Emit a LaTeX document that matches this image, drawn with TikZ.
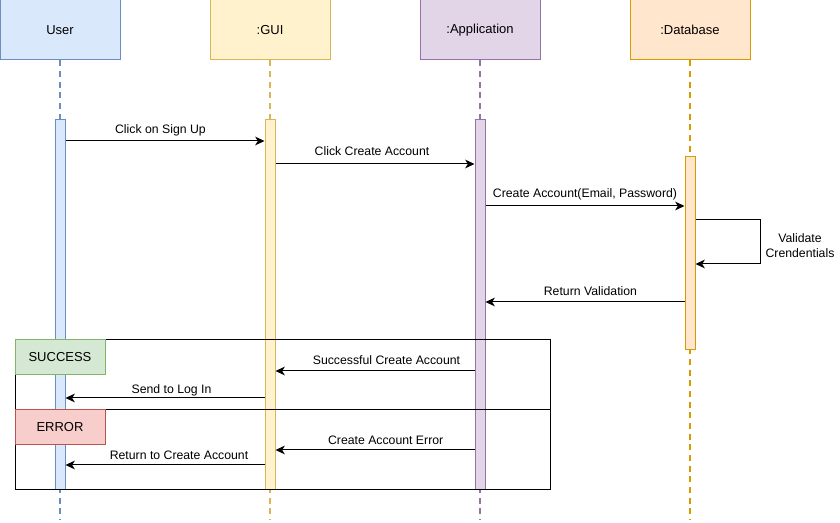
\documentclass[tikz,border=0pt]{standalone}
\usepackage{fontspec}
\setmainfont{Liberation Sans}
\usetikzlibrary{arrows.meta}
\definecolor{ufill}{HTML}{DAE8FC}\definecolor{udraw}{HTML}{6C8EBF}
\definecolor{gfill}{HTML}{FFF2CC}\definecolor{gdraw}{HTML}{D6B656}
\definecolor{afill}{HTML}{E1D5E7}\definecolor{adraw}{HTML}{9673A6}
\definecolor{dfill}{HTML}{FFE6CC}\definecolor{ddraw}{HTML}{D79B00}
\definecolor{sfill}{HTML}{D5E8D4}\definecolor{sdraw}{HTML}{82B366}
\definecolor{efill}{HTML}{F8CECC}\definecolor{edraw}{HTML}{B85450}
\tikzset{
  hdr/.style={rectangle, minimum width=90pt, minimum height=45pt, inner sep=0pt, line width=0.75pt, font=\fontsize{9.75}{12}\selectfont},
  bar/.style={rectangle, minimum width=7.5pt, inner sep=0pt, line width=0.75pt},
  life/.style={line width=1.1pt, dash pattern=on 4.5pt off 3.5pt},
  msg/.style={line width=0.75pt, -{Stealth[length=7pt, width=6.5pt, inset=2pt]}},
  lbl/.style={font=\fontsize{9.2}{11}\selectfont, inner sep=0pt},
  tag/.style={rectangle, minimum width=67.5pt, minimum height=26.25pt, inner sep=0pt, line width=0.75pt, font=\fontsize{9.75}{12}\selectfont},
}
\begin{document}
\begin{tikzpicture}[x=0.75pt,y=-0.75pt]
\useasboundingbox (0,0) rectangle (840,523);
% headers
\node[hdr, fill=ufill, draw=udraw] (user) at (60,30) {User};
\node[hdr, fill=gfill, draw=gdraw] (gui) at (270,30) {:GUI};
\node[hdr, fill=afill, draw=adraw] (app) at (480,30) {:Application};
\node[hdr, fill=dfill, draw=ddraw] (db) at (690,30) {:Database};
% lifelines
\coordinate (uend) at (60,520);
\coordinate (gend) at (270,520);
\coordinate (aend) at (480,520);
\coordinate (dend) at (690,520);
\draw[life, udraw] (user.south) -- (uend);
\draw[life, gdraw] (gui.south) -- (gend);
\draw[life, adraw] (app.south) -- (aend);
\draw[life, ddraw] (db.south) -- (dend);
% activation bars
\node[bar, minimum height=277.5pt, fill=ufill, draw=udraw] (ub) at (60,305) {};
\node[bar, minimum height=277.5pt, fill=gfill, draw=gdraw] (gb) at (270,305) {};
\node[bar, minimum height=277.5pt, fill=afill, draw=adraw] (ab) at (480,305) {};
\node[bar, minimum height=144.75pt, fill=dfill, draw=ddraw] (dbb) at (690,253.5) {};
% fragment
\node[rectangle, draw, line width=0.75pt, minimum width=401.25pt, minimum height=112.5pt, inner sep=0pt] (frag) at (282.5,415) {};
\coordinate (divl) at (15,410);
\coordinate (divr) at (550,410);
\draw[line width=0.75pt] (divl) -- (divr);
\node[tag, fill=sfill, draw=sdraw] (succ) at (60,357.5) {SUCCESS};
\node[tag, fill=efill, draw=edraw] (err) at (60,427.5) {ERROR};
% messages
\draw[msg] (ub.east |- 0,141) -- node[lbl, xshift=-3.4pt, yshift=8.25pt] {Click on Sign Up} (gb.west |- 0,141);
\draw[msg] (gb.east |- 0,164) -- node[lbl, xshift=-2.25pt, yshift=9.75pt] {Click Create Account} (ab.west |- 0,164);
\draw[msg] (ab.east |- 0,206) -- node[lbl, xshift=0pt, yshift=9pt] {Create Account(Email, Password)} (dbb.west |- 0,206);
\coordinate (selfa) at (760,220);
\coordinate (selfb) at (760,264);
\draw[msg] (dbb.east |- 0,220) -- (selfa) -- (selfb) -- (dbb.east |- 0,264);
\node[lbl, align=center] (vc) at (800,245.5) {Validate\\Crendentials};
\draw[msg] (dbb.west |- 0,302) -- node[lbl, xshift=4.1pt, yshift=8.25pt] {Return Validation} (ab.east |- 0,302);
\draw[msg] (ab.west |- 0,371) -- node[lbl, xshift=8.6pt, yshift=8.25pt] {Successful Create Account} (gb.east |- 0,371);
\draw[msg] (gb.west |- 0,398) -- node[lbl, xshift=4.9pt, yshift=6pt] {Send to Log In} (ub.east |- 0,398);
\draw[msg] (ab.west |- 0,450) -- node[lbl, xshift=8pt, yshift=7.5pt] {Create Account Error} (gb.east |- 0,450);
\draw[msg] (gb.west |- 0,465) -- node[lbl, xshift=10.5pt, yshift=7.5pt] {Return to Create Account} (ub.east |- 0,465);
\end{tikzpicture}
\end{document}
